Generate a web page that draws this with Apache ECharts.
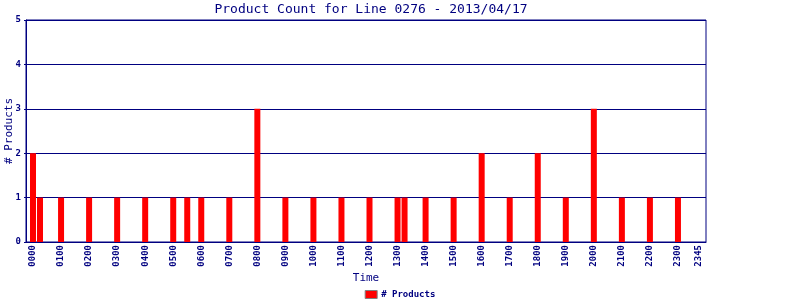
<!DOCTYPE html>
<html>
<head>
<meta charset="utf-8">
<script src="https://cdn.jsdelivr.net/npm/echarts@6/dist/echarts.min.js"></script>
<style>html,body{margin:0;padding:0;background:#fff}#c{width:800px;height:300px}</style>
</head>
<body>
<div id="c"></div>
<script>
// Time slots (15-minute intervals) with padding slots at each end
const slots = ['', '0000','0015','0030','0045','0100','0115','0130','0145','0200','0215','0230','0245',
  '0300','0315','0330','0345','0400','0415','0430','0445','0500','0515','0530','0545',
  '0600','0615','0630','0645','0700','0715','0730','0745','0800','0815','0830','0845',
  '0900','0915','0930','0945','1000','1015','1030','1045','1100','1115','1130','1145',
  '1200','1215','1230','1245','1300','1315','1330','1345','1400','1415','1430','1445',
  '1500','1515','1530','1545','1600','1615','1630','1645','1700','1715','1730','1745',
  '1800','1815','1830','1845','1900','1915','1930','1945','2000','2015','2030','2045',
  '2100','2115','2130','2145','2200','2215','2230','2245','2300','2315','2330','2345', ''];
// Observed product counts by time slot
const countTimes = ['0000','0015','0100','0200','0300','0400','0500','0530','0600','0700','0800',
  '0900','1000','1100','1200','1300','1315','1400','1500','1600','1700','1800','1900','2000',
  '2100','2200','2300'];
const countValues = [2,1,1,1,1,1,1,1,1,1,3,1,1,1,1,1,1,1,1,2,1,2,1,3,1,1,1];
const yTicks = [0,1,2,3,4,5];

const seriesData = slots.map(s => {
  const i = countTimes.indexOf(s);
  return i >= 0 ? countValues[i] : null;
});

const navy = '#000080';
const chart = echarts.init(document.getElementById('c'), null, {renderer: 'canvas'});
chart.setOption({
  animation: false,
  backgroundColor: '#ffffff',
  title: {
    text: 'Product Count for Line 0276 - 2013/04/17',
    left: 366, textAlign: 'center', top: -2,
    textStyle: {color: navy, fontFamily: 'DejaVu Sans Mono', fontSize: 13, fontWeight: 'normal'}
  },
  legend: {
    data: ['# Products'], bottom: 1, left: 'center', padding: 0,
    itemWidth: 12, itemHeight: 8, itemGap: 4,
    icon: 'rect',
    itemStyle: {borderColor: '#808080', borderWidth: 1},
    textStyle: {color: navy, fontFamily: 'DejaVu Sans Mono', fontSize: 9, fontWeight: 'bold', padding: [0,0,0,-1]}
  },
  grid: {left: 26, right: 94, top: 20, bottom: 58, containLabel: false, outerBoundsMode: 'none',
    show: true, borderColor: navy, borderWidth: 1, backgroundColor: '#fff'},
  xAxis: {
    type: 'category', data: slots, boundaryGap: false,
    name: 'Time', nameLocation: 'middle', nameGap: 31, nameMoveOverlap: false,
    nameTextStyle: {color: navy, fontFamily: 'DejaVu Sans Mono', fontSize: 11},
    axisLine: {lineStyle: {color: navy, width: 1}},
    axisTick: {show: false},
    axisLabel: {
      rotate: 90, color: navy, fontFamily: 'DejaVu Sans Mono', fontSize: 9, fontWeight: 'bold', margin: 3,
      interval: (i, v) => v !== '' && (v.endsWith('00') || v === '2345')
    },
    splitLine: {show: false}
  },
  yAxis: {
    type: 'value', min: 0, max: 5, interval: 1,
    name: '# Products', nameLocation: 'middle', nameGap: 11, nameRotate: 90, nameMoveOverlap: false,
    nameTextStyle: {color: navy, fontFamily: 'DejaVu Sans Mono', fontSize: 11},
    axisLine: {show: true, lineStyle: {color: navy, width: 1}},
    axisTick: {show: true, length: 2, lineStyle: {color: navy}},
    axisLabel: {color: navy, fontFamily: 'DejaVu Sans Mono', fontSize: 9, fontWeight: 'bold', margin: 5,
      formatter: v => yTicks.includes(v) ? String(v) : ''},
    splitLine: {show: true, lineStyle: {color: navy, width: 1}}
  },
  series: [{
    name: '# Products', type: 'bar', data: seriesData, barWidth: 6,
    itemStyle: {color: '#ff0000'}
  }]
});
</script>
</body>
</html>
